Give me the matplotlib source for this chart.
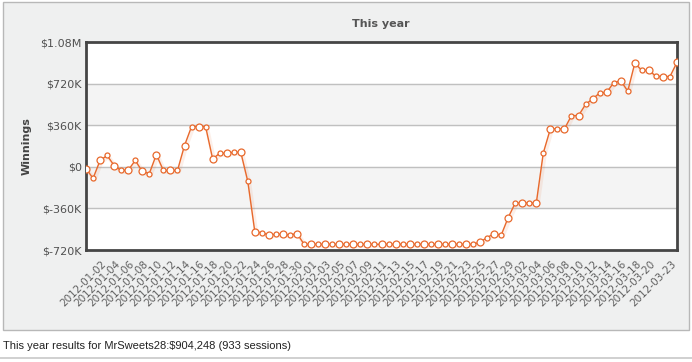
import matplotlib
matplotlib.use('Agg')
import matplotlib.pyplot as plt
import matplotlib.patheffects as pe
from matplotlib.patches import Rectangle
from matplotlib.lines import Line2D
from matplotlib.transforms import ScaledTranslation
import pandas as pd

# winnings in thousands of dollars, one value per point
winnings = [
    -15, -100, 55, 98, 11, -32, -29, 55, -40, -58,
    106, -32, -32, -32, 184, 348, 348, 348, 69, 117,
    117, 126, 126, -127, -564, -570, -590, -584, -584, -590,
    -578, -671, -671, -671, -671, -671, -671, -671, -671, -671,
    -671, -671, -671, -671, -671, -671, -671, -671, -671, -671,
    -671, -671, -671, -671, -671, -671, -651, -613, -578, -593,
    -440, -314, -314, -314, -314, 121, 328, 328, 328, 443,
    443, 540, 587, 639, 644, 728, 745, 655, 896, 834,
    834, 784, 781, 781, 904.248,
]

days = pd.date_range('2012-01-01', '2012-03-20').strftime('%Y-%m-%d').tolist()
label_idx = list(range(1, len(days), 2)) + [82]
tick_labels = [days[i] for i in range(1, len(days), 2)] + ['2012-03-23']

y_ticks = [-720, -360, 0, 360, 720, 1080]
y_labels = ['$-720K', '$-360K', '$0', '$360K', '$720K', '$1.08M']

title = 'This year'
footer = 'This year results for MrSweets28:$904,248 (933 sessions)'

W, H = 692, 362
fig = plt.figure(figsize=(W / 100, H / 100), dpi=100)
fig.patch.set_facecolor('white')

# grey chart panel
fig.add_artist(Rectangle((3 / W, 1 - 330 / H), 686 / W, 328 / H, transform=fig.transFigure,
                         facecolor='#eff0f0', edgecolor='#b8b8b8', lw=1, zorder=0))
fig.add_artist(Line2D([0, 1], [1 - 358 / H, 1 - 358 / H], transform=fig.transFigure,
                      color='#c8c8c8', lw=1.2))

ax = fig.add_axes([86 / W, 1 - 250 / H, 591 / W, 208 / H])
ax.set_facecolor('white')

# alternating bands
for k in range(len(y_ticks) - 1):
    if k % 2 == 1:
        ax.axhspan(y_ticks[k], y_ticks[k + 1], color='#f4f4f4', zorder=0)
for t in y_ticks[1:-1]:
    ax.axhline(t, color='#c0c0c0', lw=1, zorder=1)

x = list(range(len(winnings)))
orange = '#e8692c'
ax.plot(x, winnings, color=orange, lw=1.0, zorder=3,
        path_effects=[pe.SimpleLineShadow(offset=(1, -1), shadow_color=orange, alpha=0.1, linewidth=3),
                      pe.Normal()])
big = [i for i in x if i % 2 == 0]
small = [i for i in x if i % 2 == 1]
ax.plot(big, [winnings[i] for i in big], 'o', ms=5, mfc='white', mec=orange, mew=0.9, zorder=4)
ax.plot(small, [winnings[i] for i in small], 'o', ms=3.6, mfc='white', mec=orange, mew=0.9, zorder=4)

ax.set_xlim(0, len(winnings) - 1)
ax.set_ylim(-720, 1080)
ax.set_yticks(y_ticks)
ax.set_yticklabels(y_labels, fontsize=8, color='#505050')
ax.set_xticks(label_idx)
ax.set_xticklabels(tick_labels, fontsize=7.5, color='#606060', rotation=45,
                   ha='right', va='top', rotation_mode='anchor')
ax.tick_params(axis='both', length=0)
ax.tick_params(axis='y', pad=3)
ax.tick_params(axis='x', pad=6)
for lab in ax.get_xticklabels():
    lab.set_transform(lab.get_transform() + ScaledTranslation(8 / 100, 0, fig.dpi_scale_trans))

for s in ax.spines.values():
    s.set_color('#454545')
    s.set_linewidth(2)

fig.text(381 / W, 1 - 24 / H, title, ha='center', va='center', fontsize=8,
         fontweight='bold', color='#555555')
fig.text(27 / W, 1 - 146 / H, 'Winnings', ha='center', va='center', rotation=90,
         fontsize=8, fontweight='bold', color='#444444')
fig.text(3 / W, 1 - 346 / H, footer, ha='left', va='center', fontsize=8,
         family='Liberation Sans', color='#222222')

fig.savefig('out.png', dpi=100)
